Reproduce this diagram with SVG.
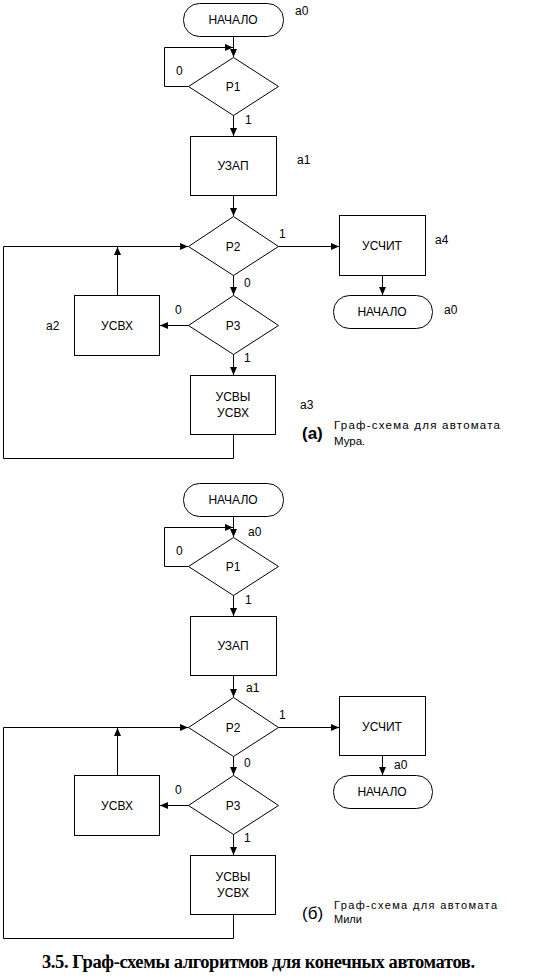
<svg xmlns="http://www.w3.org/2000/svg" width="535" height="979" viewBox="0 0 535 979">
<defs>
<marker id="ah" viewBox="0 0 8 8" refX="8" refY="4" markerWidth="8" markerHeight="8" markerUnits="userSpaceOnUse" orient="auto">
<path d="M0,0.5 L8,4 L0,7.5 Z" fill="#000"/>
</marker>
<style>
.s{fill:#fff;stroke:#000;stroke-width:1}
.c{fill:none;stroke:#000;stroke-width:1}
.a{marker-end:url(#ah)}
text{font-family:"Liberation Sans",Arial,sans-serif;font-size:12px;fill:#000}
.m{text-anchor:middle}
.n{font-size:11.5px}
.n2{font-size:11px}
.b{font-size:17px;font-weight:bold}
.cap{font-family:"Liberation Serif","Times New Roman",serif;font-size:18.5px;font-weight:bold}
</style>
</defs>

<!-- ===== (a) Moore ===== -->
<g id="a_start"><rect class="s" x="183.5" y="3.5" width="100" height="33" rx="16"/><text class="m" x="233" y="24">НАЧАЛО</text></g>
<g id="a_p1"><polygon class="s" points="233.5,57.5 278.5,86.5 233.5,115.5 188.5,86.5"/><text class="m" x="233" y="91">P1</text></g>
<g id="a_uzap"><rect class="s" x="190.5" y="136.5" width="86" height="59"/><text class="m" x="233" y="170">УЗАП</text></g>
<g id="a_p2"><polygon class="s" points="233.5,216.5 278.5,246.5 233.5,275.5 188.5,246.5"/><text class="m" x="233" y="251">P2</text></g>
<g id="a_uschit"><rect class="s" x="339.5" y="215.5" width="86" height="60"/><text class="m" x="382" y="250">УСЧИТ</text></g>
<g id="a_end"><rect class="s" x="333.5" y="295.5" width="99" height="33" rx="16"/><text class="m" x="382" y="316">НАЧАЛО</text></g>
<g id="a_p3"><polygon class="s" points="233.5,295.5 278.5,325.5 233.5,354.5 188.5,325.5"/><text class="m" x="233" y="330">P3</text></g>
<g id="a_usvh"><rect class="s" x="74.5" y="295.5" width="85" height="60"/><text class="m" x="117" y="330">УСВХ</text></g>
<g id="a_usvy"><rect class="s" x="190.5" y="375.5" width="85" height="59"/><text class="m" x="233" y="401">УСВЫ</text><text class="m" x="233" y="417">УСВХ</text></g>

<g id="a_connectors">
<path class="c a" d="M233.5,36.5 V57"/>
<path class="c a" d="M188.5,86.5 H164.5 V47.5 H233"/>
<path class="c a" d="M233.5,115.5 V136"/>
<path class="c a" d="M233.5,195.5 V216"/>
<path class="c a" d="M278.5,246.5 H339"/>
<path class="c a" d="M382.5,275.5 V295"/>
<path class="c a" d="M233.5,275.5 V295"/>
<path class="c a" d="M188.5,325.5 H160"/>
<path class="c a" d="M117.5,295.5 V247"/>
<path class="c a" d="M233.5,354.5 V375"/>
<path class="c a" d="M233.5,434.5 V458.5 H3.5 V246.5 H188"/>
</g>

<g id="a_labels">
<text x="295" y="15">a0</text>
<text x="176" y="75">0</text>
<text x="245" y="124">1</text>
<text x="297" y="164">a1</text>
<text x="279" y="238">1</text>
<text x="244" y="287">0</text>
<text x="435" y="244">a4</text>
<text x="444" y="314">a0</text>
<text x="175" y="314">0</text>
<text x="46" y="330">a2</text>
<text x="244" y="362">1</text>
<text x="300" y="409">a3</text>
<text class="b" x="302" y="439">(a)</text>
<text class="n" x="334" y="429" textLength="166" lengthAdjust="spacing">Граф-схема для автомата</text>
<text class="n" x="334" y="445">Мура.</text>
</g>

<!-- ===== (б) Mealy ===== -->
<g id="b_start"><rect class="s" x="183.5" y="483.5" width="100" height="33" rx="16"/><text class="m" x="233" y="504">НАЧАЛО</text></g>
<g id="b_p1"><polygon class="s" points="233.5,537.5 278.5,566.5 233.5,595.5 188.5,566.5"/><text class="m" x="233" y="571">P1</text></g>
<g id="b_uzap"><rect class="s" x="190.5" y="616.5" width="86" height="59"/><text class="m" x="233" y="650">УЗАП</text></g>
<g id="b_p2"><polygon class="s" points="233.5,697.5 278.5,727.5 233.5,756.5 188.5,727.5"/><text class="m" x="233" y="732">P2</text></g>
<g id="b_uschit"><rect class="s" x="339.5" y="696.5" width="86" height="59"/><text class="m" x="382" y="731">УСЧИТ</text></g>
<g id="b_end"><rect class="s" x="333.5" y="775.5" width="99" height="33" rx="16"/><text class="m" x="382" y="796">НАЧАЛО</text></g>
<g id="b_p3"><polygon class="s" points="233.5,775.5 278.5,805.5 233.5,834.5 188.5,805.5"/><text class="m" x="233" y="810">P3</text></g>
<g id="b_usvh"><rect class="s" x="74.5" y="775.5" width="85" height="60"/><text class="m" x="117" y="810">УСВХ</text></g>
<g id="b_usvy"><rect class="s" x="190.5" y="855.5" width="85" height="59"/><text class="m" x="233" y="881">УСВЫ</text><text class="m" x="233" y="897">УСВХ</text></g>

<g id="b_connectors">
<path class="c a" d="M233.5,516.5 V537"/>
<path class="c a" d="M188.5,566.5 H164.5 V527.5 H233"/>
<path class="c a" d="M233.5,595.5 V616"/>
<path class="c a" d="M233.5,675.5 V697"/>
<path class="c a" d="M278.5,727.5 H339"/>
<path class="c a" d="M382.5,755.5 V775"/>
<path class="c a" d="M233.5,756.5 V775"/>
<path class="c a" d="M188.5,805.5 H160"/>
<path class="c a" d="M117.5,775.5 V728"/>
<path class="c a" d="M233.5,834.5 V855"/>
<path class="c a" d="M233.5,914.5 V938.5 H3.5 V727.5 H188"/>
</g>

<g id="b_labels">
<text x="248" y="536">a0</text>
<text x="176" y="555">0</text>
<text x="245" y="604">1</text>
<text x="246" y="692">a1</text>
<text x="279" y="719">1</text>
<text x="244" y="767">0</text>
<text x="394" y="769">a0</text>
<text x="175" y="794">0</text>
<text x="244" y="842">1</text>
<text class="b" style="font-weight:normal" x="302" y="919">(б)</text>
<text class="n2" x="334" y="909" textLength="163" lengthAdjust="spacing">Граф-схема для автомата</text>
<text class="n2" x="334" y="923">Мили</text>
</g>

<text class="cap" x="42" y="968" textLength="433" lengthAdjust="spacing">3.5. Граф-схемы алгоритмов для конечных автоматов.</text>
</svg>
